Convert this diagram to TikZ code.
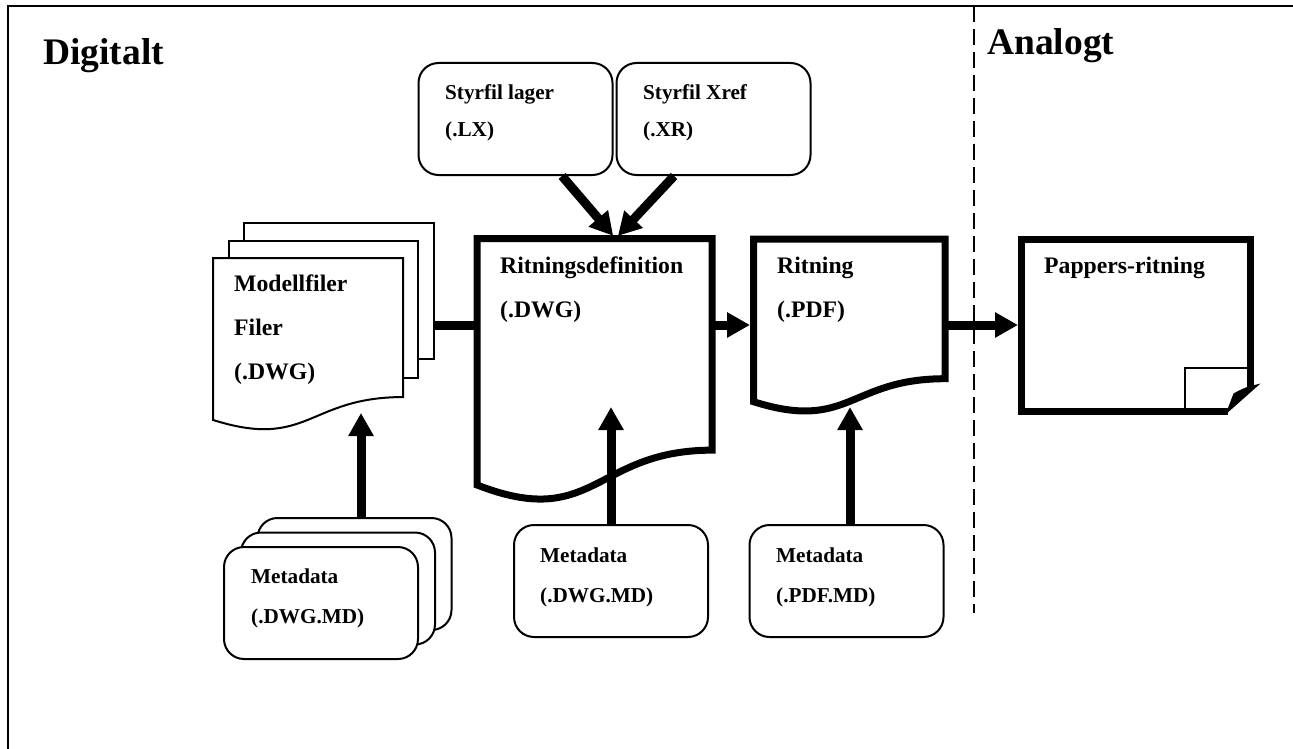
\documentclass[tikz,border=0pt]{standalone}
\usepackage{fontspec}
\setmainfont{Liberation Serif}
\usetikzlibrary{calc,arrows.meta}

% outline of a document sheet with a wavy lower edge
\newcommand{\docshape}[1]{(#1.north west) -- (#1.north east)
  -- ($(#1.north east)!0.802!(#1.south east)$)
  .. controls ($(#1.north)!0.802!(#1.south)$) and ($(#1.north)!1.1075!(#1.south)$)
  .. ($(#1.north west)!0.934!(#1.south west)$) -- cycle}

\begin{document}
\begin{tikzpicture}[x=1pt, y=-1pt,
    box/.style={draw, line width=2pt, rounded corners=20pt, fill=white,
      minimum width=194pt, minimum height=112pt},
    hidden/.style={inner sep=0pt, outer sep=0pt},
    sheet/.style={draw, line width=2pt, fill=white},
    docline/.style={draw, line width=7pt, fill=white, line join=miter},
    head/.style={font=\bfseries\fontsize{37.5}{45}\selectfont, anchor=base west, inner sep=0pt},
    big/.style={font=\bfseries\fontsize{23.7}{44}\selectfont, align=left, anchor=base west, inner sep=0pt},
    small/.style={font=\bfseries\fontsize{21.2}{36}\selectfont, align=left, anchor=base west, inner sep=0pt},
    meta/.style={font=\bfseries\fontsize{21.2}{40}\selectfont, align=left, anchor=base west, inner sep=0pt},
    flow/.style={line width=9pt, -{Triangle[length=23pt, width=24pt]}}]
  \useasboundingbox (0,0) rectangle (1293,749);

  % frame and divider
  \draw[line width=2pt] (8,749) -- (8,6) -- (1293,6);
  \draw[line width=2pt, dash pattern=on 16pt off 7pt] (974,6) -- (974,613);

  \node[head] (digital) at (43,65) {Digitalt};
  \node[head] (analog)  at (987,55) {Analogt};

  % control files (text nodes sit on the baseline of their last line)
  \node[box] (lager) at (515.5,119) {};
  \node[box] (xref)  at (713.5,119) {};
  \node[small] (lagerTxt) at (445,136) {Styrfil lager\\(.LX)};
  \node[small] (xrefTxt)  at (643,136) {Styrfil Xref\\(.XR)};

  % documents
  \node[hidden, minimum width=235pt, minimum height=263.9pt] (ritdef) at (594.5,370.45) {};
  \node[hidden, minimum width=191.5pt, minimum height=174.2pt] (ritning) at (849.25,326.1) {};
  \node[hidden, minimum width=229pt, minimum height=172pt] (paper) at (1136,325.5) {};
  \node[sheet, minimum width=190pt, minimum height=136pt] (modelC) at (339,291) {};
  \node[sheet, minimum width=189pt, minimum height=137pt] (modelB) at (323.5,309.5) {};
  \node[hidden, minimum width=190pt, minimum height=173.4pt] (model) at (308,344.7) {};

  \draw[sheet] \docshape{model};
  \draw[docline] \docshape{ritdef};
  \draw[docline] \docshape{ritning};
  \draw[line width=7pt, line join=miter] ($(paper.south east)+(-23,0)$) -- (paper.south west)
    -- (paper.north west) -- (paper.north east) -- ($(paper.south east)+(0,-25)$);
  \draw[line width=2pt] ($(paper.south east)+(-66,0)$) -- ($(paper.south east)+(-66,-44)$)
    -- ($(paper.south east)+(-4,-44)$);
  \fill ($(paper.south east)+(-25,3)$) -- ($(paper.south east)+(-17,-18)$)
    .. controls ($(paper.south east)+(-6,-24)$) .. ($(paper.south east)+(10,-28)$) -- cycle;

  \node[big] (modelTxt)   at (234,379)  {Modellfiler\\Filer\\(.DWG)};
  \node[big] (ritdefTxt)  at (500,317)  {Ritningsdefinition\\(.DWG)};
  \node[big] (ritningTxt) at (777,317)  {Ritning\\(.PDF)};
  \node[big] (paperTxt)   at (1044,273) {Pappers-ritning};

  % metadata
  \node[box] (mdC) at (354.5,574) {};
  \node[box] (mdB) at (338,588.5) {};
  \node[box] (md)  at (321,603) {};
  \node[box] (mdDwg) at (611,581) {};
  \node[box] (mdPdf) at (846.5,581) {};
  \node[meta] (mdTxt)    at (251,623) {Metadata\\(.DWG.MD)};
  \node[meta] (mdDwgTxt) at (540,602) {Metadata\\(.DWG.MD)};
  \node[meta] (mdPdfTxt) at (776,602) {Metadata\\(.PDF.MD)};

  % connectors
  \coordinate (flowrow)   at (0,325);
  \coordinate (modelIn)   at (361,413);
  \coordinate (ritdefIn)  at (611,407);
  \coordinate (ritningIn) at (850,407);

  \draw[line width=9pt] (modelC.east |- flowrow) -- (ritdef.west |- flowrow);
  \draw[flow, shorten >=3.5pt] (ritdef.east |- flowrow) -- (ritning.west |- flowrow);
  \draw[flow, shorten >=3.5pt] (ritning.east |- flowrow) -- (paper.west |- flowrow);
  \draw[flow, shorten >=3.5pt] ($(lager.south)+(46.5,0)$) -- ($(ritdef.north)+(21,0)$);
  \draw[flow, shorten >=3.5pt] ($(xref.south)+(-39.5,0)$) -- ($(ritdef.north)+(21,0)$);
  \draw[flow] (mdC.north -| modelIn) -- (modelIn);
  \draw[flow] (mdDwg.north -| ritdefIn) -- (ritdefIn);
  \draw[flow] (mdPdf.north -| ritningIn) -- (ritningIn);
\end{tikzpicture}
\end{document}
